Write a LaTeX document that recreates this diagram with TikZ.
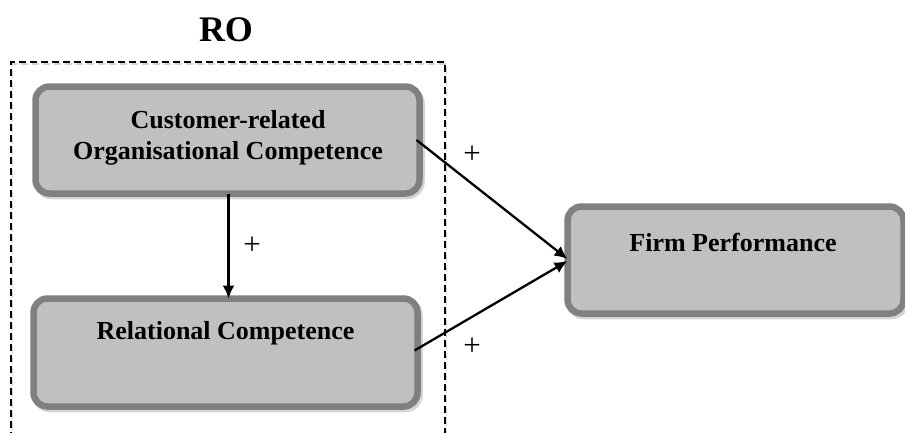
\documentclass[tikz,border=0pt]{standalone}
\usepackage{fontspec}
\setmainfont{Liberation Serif}
\usetikzlibrary{arrows.meta,shadows}
\definecolor{boxfill}{HTML}{C0C0C0}
\definecolor{boxline}{HTML}{808080}
\definecolor{shadowc}{HTML}{D4D4D4}
\tikzset{
  x=1pt, y=1pt,
  cbox/.style={draw=boxline, fill=boxfill, line width=6.5pt, rounded corners=14pt,
    inner sep=0pt, outer sep=0pt,
    general shadow={draw=shadowc, fill=shadowc, line width=6.5pt, rounded corners=14pt,
      shadow xshift=2pt, shadow yshift=-2.5pt}},
  btext/.style={font=\fontsize{26}{31}\selectfont\bfseries, align=center, inner sep=0pt},
  plus/.style={font=\fontsize{31}{32}\selectfont, inner sep=0pt},
  arr/.style={line width=2.3pt, -{Latex[length=13pt,width=12pt]}},
  frame/.style={line width=1.5pt, dash pattern=on 7pt off 4pt}
}
\begin{document}
\begin{tikzpicture}
\useasboundingbox (0,0) rectangle (905,-432);
% group frame
\draw[frame, draw=shadowc, shift={(1.5,-2)}] (11,-450) -- (11,-62) -- (445,-62) -- (445,-450);
\draw[frame] (11,-450) -- (11,-62) -- (445,-62) -- (445,-450);
\node[font=\fontsize{36}{40}\selectfont\bfseries, inner sep=0pt] (ro) at (226,-30) {RO};
% boxes
\node[cbox, minimum width=384pt, minimum height=107pt] (b1) at (227.5,-140) {};
\node[btext] (t1) at (228,-138) {Customer-related\\Organisational Competence};
\node[cbox, minimum width=384pt, minimum height=108pt] (b2) at (225.5,-352.5) {};
\node[btext] (t2) at (225.5,-333) {Relational Competence};
\node[cbox, minimum width=336pt, minimum height=107pt] (b3) at (735.5,-260) {};
\node[btext] (t3) at (733,-242) {Firm Performance};
% connectors
\draw[arr] ([xshift=1pt]b1.south) -- ([xshift=1pt]b1.south |- b2.north);
\draw[arr] ([xshift=-3pt]b1.east) -- ([yshift=1pt]b3.west);
\draw[arr] ([xshift=-3pt,yshift=2pt]b2.east) -- ([yshift=-1pt]b3.west);
% labels
\node[plus] (p1) at (252,-246) {+};
\node[plus] (p2) at (472,-155) {+};
\node[plus] (p3) at (472,-347) {+};
\end{tikzpicture}
\end{document}
